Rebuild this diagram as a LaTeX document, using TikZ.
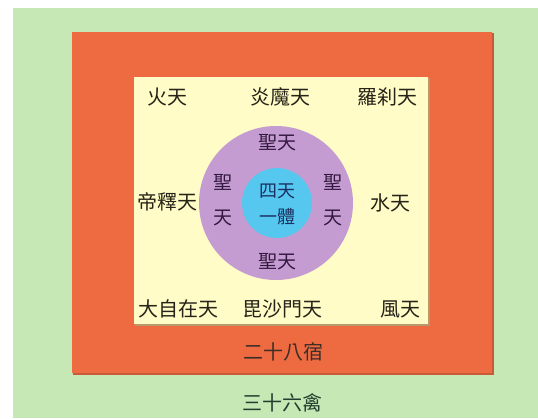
\documentclass[tikz,border=0pt]{standalone}
\usepackage{fontspec}
\newfontfamily\cjk{Noto Sans CJK TC}
\definecolor{bggreen}{HTML}{C6E8B4}
\definecolor{ring}{HTML}{EE6B42}
\definecolor{ringedge}{HTML}{C85A38}
\definecolor{field}{HTML}{FFFCC8}
\definecolor{fieldedge}{HTML}{B89A6A}
\definecolor{lilac}{HTML}{C49CD2}
\definecolor{sky}{HTML}{56C8F0}
\definecolor{ink}{HTML}{262318}
\definecolor{inkpurple}{HTML}{33183F}
\definecolor{inkblue}{HTML}{1A3060}
\definecolor{inkbrown}{HTML}{3E2E28}
\definecolor{inkgreen}{HTML}{233E30}
\tikzset{
  lbl/.style={inner sep=0pt, font=\cjk\fontsize{20}{22}\selectfont, text=ink},
  sacred/.style={lbl, text=inkpurple, font=\cjk\fontsize{19}{21}\selectfont},
  core/.style={lbl, text=inkblue, align=center},
}
\begin{document}
\begin{tikzpicture}[x=1pt,y=-1pt]
\useasboundingbox (0,0) rectangle (538,418);
\fill[white] (0,0) rectangle (538,418);
\fill[bggreen] (13,8) rectangle (538,418);
% outer ring: 二十八宿
\fill[ringedge] (73,33) rectangle (494,375);
\fill[ring] (72,32) rectangle (492,373);
% field of the twelve devas
\fill[fieldedge] (135,78) rectangle (430,326);
\fill[field] (134,77) rectangle (428,324);
% circles
\fill[lilac] (276,203) circle (77);
\fill[sky] (277,203) circle (35);
% labels
\node[lbl] (huo) at (167,97) {火天};
\node[lbl] (yan) at (280,97) {炎魔天};
\node[lbl] (luo) at (387,97) {羅刹天};
\node[lbl] (di) at (167,202) {帝釋天};
\node[lbl] (shui) at (390,203) {水天};
\node[lbl] (da) at (178,309) {大自在天};
\node[lbl] (pi) at (282,309) {毘沙門天};
\node[lbl] (feng) at (400,309) {風天};
\node[sacred] (st) at (277,143) {聖天};
\node[sacred] (sb) at (277,262) {聖天};
\node[sacred, align=center, font=\cjk\fontsize{19}{35}\selectfont] (sl) at (223,200) {聖\\天};
\node[sacred, align=center, font=\cjk\fontsize{19}{35}\selectfont] (sr) at (333,200) {聖\\天};
\node[core, font=\cjk\fontsize{18}{26}\selectfont] (c) at (277,204) {四天\\一體};
\node[lbl, text=inkbrown] (xiu) at (283,352) {二十八宿};
\node[lbl, text=inkgreen] (qin) at (282,403) {三十六禽};
\end{tikzpicture}
\end{document}
